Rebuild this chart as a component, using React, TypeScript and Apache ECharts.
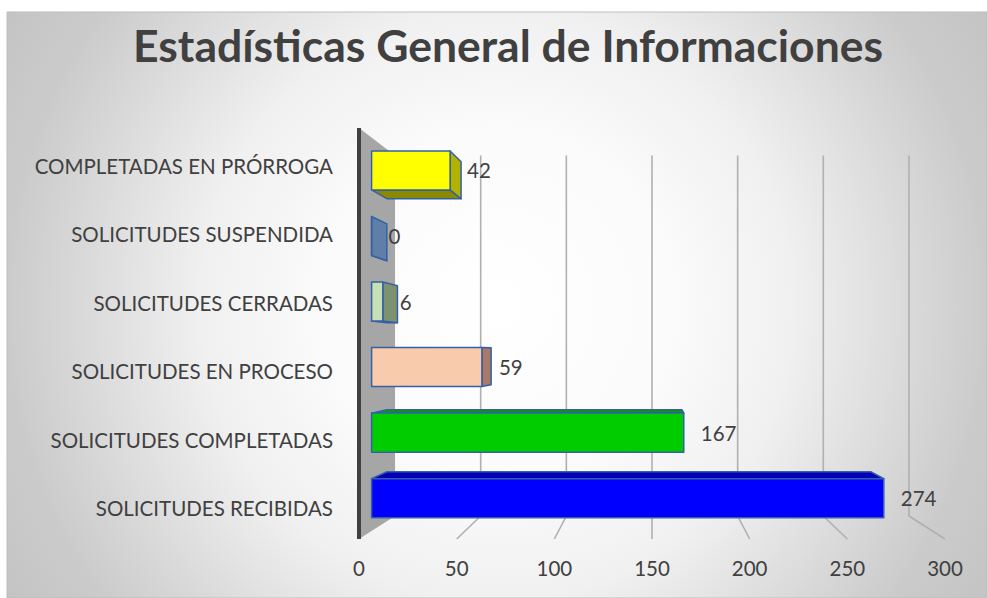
import React, { useEffect, useRef } from "react";
import * as echarts from "echarts";

// ---------- data ----------
const categories = [
  "SOLICITUDES RECIBIDAS",
  "SOLICITUDES COMPLETADAS",
  "SOLICITUDES EN PROCESO",
  "SOLICITUDES CERRADAS",
  "SOLICITUDES SUSPENDIDA",
  "COMPLETADAS EN PRÓRROGA",
];
const values = [274, 167, 59, 6, 0, 42];
const xTicks = [0, 50, 100, 150, 200, 250, 300];
const titleText = "Estadísticas General de Informaciones";

// ---------- styles ----------
const frontColors = ["#0000ff", "#00cc00", "#f8cbad", "#c5e0b4", "#6f8fbf", "#ffff00"];
const topColors = ["#0000b4", "#009c00", "#c9a08a", "#9db38f", "#4a6690", "#c8c800"];
const bottomColors = ["#00008a", "#007a00", "#9c6e5c", "#6b7d5c", "#4a6690", "#8a8a00"];
const sideColors = ["#0000c0", "#00a000", "#a87a66", "#7f9270", "#5f7fa8", "#b2b200"];
const BORDER = "#3560a8";
const TEXT = "#404040";
const FONT = "Lato, 'Noto Sans', sans-serif";

const S_F = 0.957; // bar front plane
const S_B = 0.905; // bar back plane
const S_W = 0.877; // back wall plane
const BAR_FRAC = 0.595;
const LABEL_GAP = 17;
const VY_FRAC = 0.545;

function persp(rect: any) {
  const vx = rect.x + rect.width / 2;
  const vy = rect.y + rect.height * VY_FRAC;
  const T = (p: number[], s: number) => [vx + (p[0] - vx) * s, vy + (p[1] - vy) * s];
  return { vx, vy, T };
}

export default function App() {
  const ref = useRef<HTMLDivElement>(null);
  useEffect(() => {
    if (!ref.current) return;
    const chart = echarts.init(ref.current, null, { renderer: "svg" });
    const stroke = { stroke: BORDER, lineWidth: 1.5, lineJoin: "round" };

    const option: any = {
      animation: false,
      title: {
        text: titleText,
        left: 128,
        top: 17,
        textStyle: { fontFamily: FONT, fontWeight: "bold", fontSize: 44.5, color: TEXT },
      },
      graphic: [
        {
          type: "rect",
          z: -100,
          shape: { x: 7, y: 12, width: 980, height: 586 },
          style: {
            fill: new echarts.graphic.RadialGradient(
              497,
              305,
              570,
              [
                { offset: 0, color: "#ffffff" },
                { offset: 0.3, color: "#fbfbfb" },
                { offset: 0.52, color: "#f0f0f0" },
                { offset: 0.86, color: "#cbcbcb" },
                { offset: 1, color: "#c4c4c4" },
              ],
              true
            ),
            stroke: "#bdbdbd",
            lineWidth: 1,
          },
        },
      ],
      grid: { left: 359, right: 42, top: 128, bottom: 59 },
      xAxis: {
        type: "value",
        min: 0,
        max: 300,
        interval: 50,
        axisLine: { show: false },
        axisTick: { show: false },
        splitLine: { show: false },
        axisLabel: { color: TEXT, fontFamily: FONT, fontSize: 20.5, margin: 18 },
      },
      yAxis: {
        type: "category",
        data: categories,
        axisLine: { show: false },
        axisTick: { show: false },
        splitLine: { show: false },
        axisLabel: {
          margin: 26,
          formatter: (v: string) => "{a|" + v + "}",
          rich: {
            a: {
              color: TEXT,
              fontFamily: FONT,
              fontSize: 20.5,
              padding: [7, 0, 0, 0],
            },
          },
        },
      },
      series: [
        {
          type: "custom",
          name: "wall",
          z: 1,
          silent: true,
          data: [[0, 0]],
          encode: { x: 0, y: 1 },
          renderItem: (params: any, api: any) => {
            const rect = params.coordSys;
            const { T } = persp(rect);
            const x0 = api.coord([0, 0])[0];
            const top = rect.y;
            const bot = rect.y + rect.height;
            return {
              type: "group",
              children: [
                {
                  type: "polygon",
                  shape: { points: [[x0, top], T([x0, top], S_W), T([x0, bot], S_W), [x0, bot]] },
                  style: { fill: "#a6a6a6" },
                },
                {
                  type: "line",
                  shape: { x1: x0, y1: top, x2: x0, y2: bot },
                  style: { stroke: "#404040", lineWidth: 4 },
                },
              ],
            };
          },
        },
        {
          type: "custom",
          name: "grid",
          z: 1,
          silent: true,
          data: xTicks.filter((t) => t > 0).map((t) => [t, 0]),
          encode: { x: 0, y: 1 },
          renderItem: (params: any, api: any) => {
            const rect = params.coordSys;
            const { T } = persp(rect);
            const x = api.coord([api.value(0), 0])[0];
            const top = rect.y;
            const bot = rect.y + rect.height;
            return {
              type: "polyline",
              shape: { points: [T([x, top], S_W), T([x, bot], S_W), [x, bot]] },
              style: { stroke: "#b0b0b0", lineWidth: 1.6, fill: null },
            };
          },
        },
        {
          type: "custom",
          name: "bars",
          z: 3,
          data: values.map((v, i) => [v, i]),
          encode: { x: 0, y: 1 },
          renderItem: (params: any, api: any) => {
            const rect = params.coordSys;
            const { vx, vy, T } = persp(rect);
            const v = api.value(0);
            const c = api.value(1);
            const a = api.coord([0, c]);
            const b = api.coord([v, c]);
            const h = api.size([0, 1])[1] * BAR_FRAC;
            const corners = (s: number) => ({
              tl: T([a[0], a[1] - h / 2], s),
              tr: T([b[0], b[1] - h / 2], s),
              br: T([b[0], b[1] + h / 2], s),
              bl: T([a[0], a[1] + h / 2], s),
            });
            const f = corners(S_F);
            const k = corners(S_B);
            const i = params.dataIndex;
            const children: any[] = [];
            if (f.tl[1] > vy)
              children.push({
                type: "polygon",
                shape: { points: [f.tl, f.tr, k.tr, k.tl] },
                style: { fill: topColors[i], ...stroke },
              });
            if (f.bl[1] < vy)
              children.push({
                type: "polygon",
                shape: { points: [f.bl, f.br, k.br, k.bl] },
                style: { fill: bottomColors[i], ...stroke },
              });
            if (f.tr[0] < vx)
              children.push({
                type: "polygon",
                shape: { points: [f.tr, f.br, k.br, k.tr] },
                style: { fill: sideColors[i], ...stroke },
              });
            children.push({
              type: "polygon",
              shape: { points: [f.tl, f.tr, f.br, f.bl] },
              style: { fill: frontColors[i], ...stroke },
            });
            children.push({
              type: "text",
              x: f.tr[0] + LABEL_GAP,
              y: (f.tr[1] + f.br[1]) / 2,
              style: {
                text: String(v),
                fill: TEXT,
                fontFamily: FONT,
                fontSize: 20.5,
                align: "left",
                verticalAlign: "middle",
              },
            });
            return { type: "group", children };
          },
        },
      ],
    };
    chart.setOption(option);
    return () => chart.dispose();
  }, []);
  return (
    <div
      ref={ref}
      style={{ position: "absolute", left: 0, top: 0, width: 987, height: 598 }}
    />
  );
}
